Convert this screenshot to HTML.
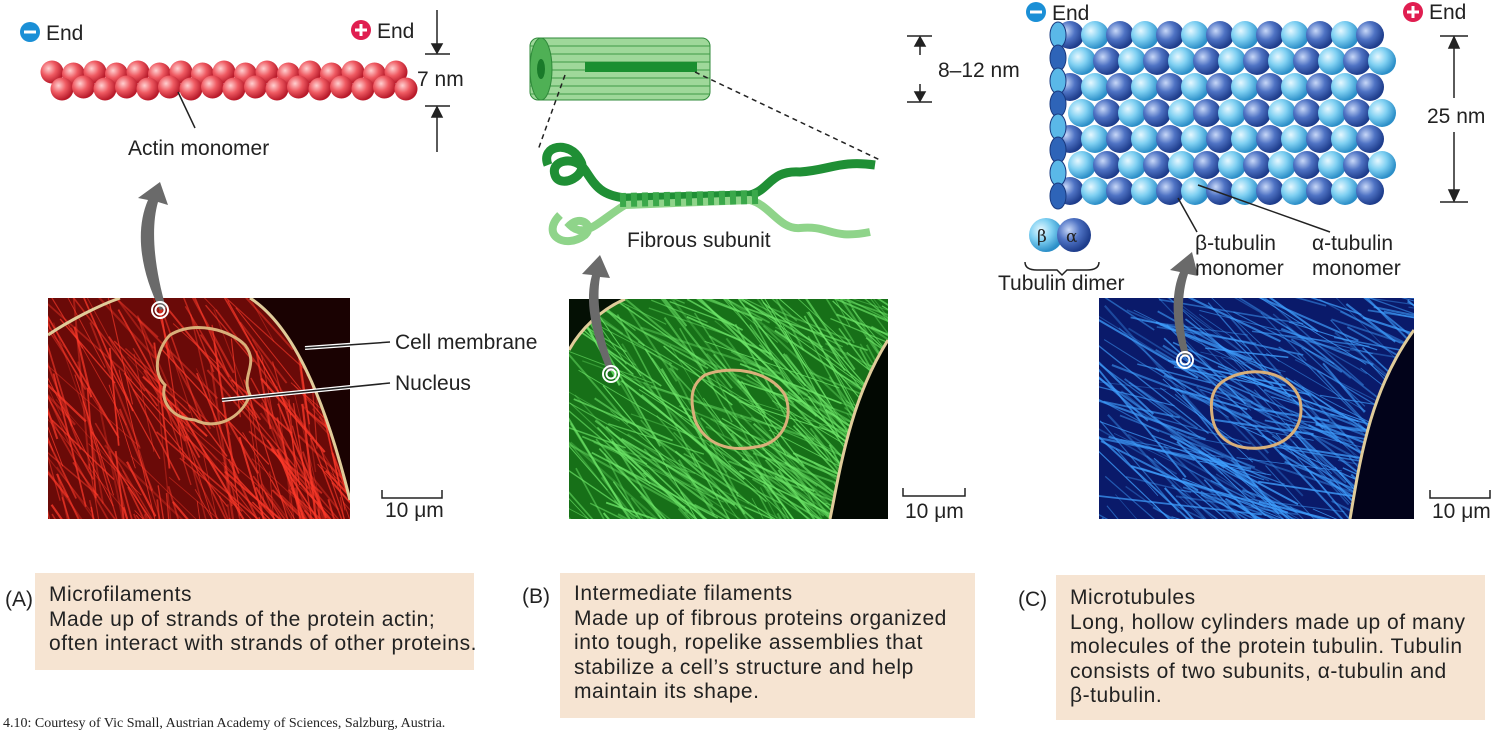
<!DOCTYPE html>
<html><head><meta charset="utf-8"><style>
body{margin:0;width:1500px;height:741px;background:#fff;overflow:hidden;font-family:"Liberation Sans",sans-serif;}
svg{position:absolute;left:0;top:0}
svg text{font-family:"Liberation Sans",sans-serif;font-size:21px;fill:#222}
.box{position:absolute;background:#f6e4d2;font-size:21px;letter-spacing:0.55px;line-height:24.5px;color:#222;padding:10px 14px;box-sizing:border-box;white-space:nowrap}
</style></head><body>
<svg id="s" width="1500" height="741" viewBox="0 0 1500 741">
<defs>
<radialGradient id="rb" cx="35%" cy="35%" r="65%"><stop offset="0" stop-color="#ffd0d0"/><stop offset="0.5" stop-color="#ef5a62"/><stop offset="1" stop-color="#b81a2a"/></radialGradient>
<radialGradient id="lb" cx="35%" cy="35%" r="65%"><stop offset="0" stop-color="#e6f8ff"/><stop offset="0.5" stop-color="#7fd0f2"/><stop offset="1" stop-color="#2c8fc8"/></radialGradient>
<radialGradient id="db" cx="35%" cy="35%" r="65%"><stop offset="0" stop-color="#c8d8f8"/><stop offset="0.5" stop-color="#4f73c4"/><stop offset="1" stop-color="#1e3d8c"/></radialGradient>
<clipPath id="ca"><rect x="48" y="298" width="302" height="221"/></clipPath>
<clipPath id="cb"><rect x="569" y="299" width="319" height="220"/></clipPath>
<clipPath id="cc"><rect x="1099" y="298" width="315" height="221"/></clipPath>
</defs>
<g id="actin"></g>
<g clip-path="url(#ca)"><rect x="48" y="298" width="302" height="221" fill="#6a0a08"/><g id="la"></g>
<path d="M250,298 C300,330 330,420 350,500 L350,298Z" fill="#1a0202"/>
<path d="M250,298 C300,330 330,420 350,500" stroke="#e0cc9a" stroke-width="3" fill="none"/>
<path d="M48,335 C70,320 100,305 120,298" stroke="#e0cc9a" stroke-width="3" fill="none"/>
<path d="M170,335 C195,320 230,330 245,345 C260,365 240,375 250,395 C240,420 215,430 195,420 C170,418 160,400 165,385 C150,370 160,345 170,335Z" stroke="#d9b07a" stroke-width="3" fill="none"/>
</g>
<g clip-path="url(#cb)"><rect x="569" y="299" width="319" height="220" fill="#177018"/><g id="lb2"></g>
<path d="M888,340 C850,400 840,470 830,519 L888,519Z" fill="#020802"/>
<path d="M888,340 C850,400 840,470 830,519" stroke="#e0cc9a" stroke-width="3" fill="none"/>
<path d="M569,350 C580,330 600,310 625,299 L569,299Z" fill="#041004"/>
<path d="M569,350 C580,330 600,310 625,299" stroke="#e0cc9a" stroke-width="3" fill="none"/>
<path d="M705,375 C730,365 770,370 785,395 C795,420 780,445 755,447 C730,452 705,445 695,420 C690,400 690,385 705,375Z" stroke="#d9b07a" stroke-width="3" fill="none"/>
</g>
<g clip-path="url(#cc)"><rect x="1099" y="298" width="315" height="221" fill="#0a1a6a"/><g id="lc"></g>
<path d="M1414,330 C1370,390 1360,460 1350,519 L1414,519Z" fill="#02031a"/>
<path d="M1414,330 C1370,390 1360,460 1350,519" stroke="#e0cc9a" stroke-width="3" fill="none"/>
<path d="M1225,380 C1250,365 1290,370 1300,400 C1305,425 1290,445 1260,448 C1235,450 1215,440 1212,415 C1210,400 1212,388 1225,380Z" stroke="#d9b07a" stroke-width="3" fill="none"/>
</g>
<line x1="305" y1="348" x2="390" y2="342" stroke="#fff" stroke-width="4"/><line x1="305" y1="348" x2="390" y2="342" stroke="#222" stroke-width="1.5"/>
<line x1="222" y1="400" x2="390" y2="383" stroke="#fff" stroke-width="4"/><line x1="222" y1="400" x2="390" y2="383" stroke="#222" stroke-width="1.5"/>
<path d="M160,310 C140,270 135,230 148,200 L138,198 L160,182 L168,205 L158,202 C150,230 155,270 166,308Z" fill="#6a6a6a"/>
<path d="M608,372 C590,330 585,300 592,275 L582,274 L600,255 L610,278 L600,277 C596,300 600,330 614,370Z" fill="#6a6a6a"/>
<path d="M1183,357 C1170,320 1172,290 1180,272 L1170,270 L1192,252 L1198,276 L1188,274 C1182,292 1180,320 1189,355Z" fill="#6a6a6a"/>
<circle cx="160" cy="310" r="8" fill="none" stroke="#fff" stroke-width="2"/><circle cx="160" cy="310" r="4.5" fill="none" stroke="#fff" stroke-width="2"/>
<circle cx="611" cy="374" r="8" fill="none" stroke="#fff" stroke-width="2"/><circle cx="611" cy="374" r="4.5" fill="none" stroke="#fff" stroke-width="2"/>
<circle cx="1185" cy="360" r="8" fill="none" stroke="#fff" stroke-width="2"/><circle cx="1185" cy="360" r="4.5" fill="none" stroke="#fff" stroke-width="2"/>
<path d="M382,490 v8 h60 v-8" stroke="#222" fill="none" stroke-width="1.5"/>
<path d="M903,488 v8 h62 v-8" stroke="#222" fill="none" stroke-width="1.5"/>
<path d="M1430,490 v8 h60 v-8" stroke="#222" fill="none" stroke-width="1.5"/>
<g stroke="#222" stroke-width="1.5" fill="#222">
<line x1="437" y1="10" x2="437" y2="50"/><line x1="425" y1="54" x2="450" y2="54"/><path d="M432,44 L442,44 L437,53Z"/>
<line x1="437" y1="112" x2="437" y2="152"/><line x1="425" y1="106" x2="450" y2="106"/><path d="M432,117 L442,117 L437,107Z"/>
<line x1="907" y1="36" x2="932" y2="36"/><line x1="907" y1="102" x2="932" y2="102"/><line x1="920" y1="38" x2="920" y2="55"/><line x1="920" y1="84" x2="920" y2="100"/>
<path d="M915,46 L925,46 L920,37Z"/><path d="M915,92 L925,92 L920,101Z"/>
<line x1="1440" y1="36" x2="1468" y2="36"/><line x1="1440" y1="202" x2="1468" y2="202"/><line x1="1454" y1="38" x2="1454" y2="98"/><line x1="1454" y1="132" x2="1454" y2="200"/>
<path d="M1449,48 L1459,48 L1454,37Z"/><path d="M1449,190 L1459,190 L1454,201Z"/>
</g>
<g>
<rect x="530" y="38" width="180" height="62" rx="8" fill="#9fd89a" stroke="#2f8a3a"/>
<g stroke="#3f9a45" stroke-width="1"><line x1="530" y1="46" x2="710" y2="46"/><line x1="530" y1="54" x2="710" y2="54"/><line x1="530" y1="62" x2="710" y2="62"/><line x1="530" y1="70" x2="710" y2="70"/><line x1="530" y1="78" x2="710" y2="78"/><line x1="530" y1="86" x2="710" y2="86"/><line x1="530" y1="94" x2="710" y2="94"/></g>
<rect x="585" y="62" width="112" height="10" fill="#1a8f30"/>
<ellipse cx="541" cy="69" rx="11" ry="31" fill="#4fb055" stroke="#2f8a3a"/>
<ellipse cx="541" cy="69" rx="4" ry="10" fill="#1a7a2a"/>
<line x1="565" y1="75" x2="538" y2="150" stroke="#222" stroke-dasharray="5,4" stroke-width="1.5"/>
<line x1="695" y1="72" x2="880" y2="160" stroke="#222" stroke-dasharray="5,4" stroke-width="1.5"/>
<path d="M548,165 C540,145 570,140 580,160 C590,175 560,190 555,175 C550,160 575,155 585,170 C595,185 600,195 625,198 L750,195 C770,190 770,170 800,172 C830,170 840,160 875,165" stroke="#1f8f35" stroke-width="9" fill="none"/>
<path d="M560,215 C540,235 565,250 585,235 C595,225 580,215 570,225 C585,240 600,220 625,205 L750,200 C770,205 780,230 800,228 C830,225 830,240 870,232" stroke="#8fd48a" stroke-width="8" fill="none"/>
<path d="M620,200 L760,197" stroke="#3aa84a" stroke-width="14" stroke-dasharray="6,5"/>
</g>
<g id="mt"></g>
<circle cx="1046" cy="235" r="17" fill="url(#lb)"/><circle cx="1074" cy="235" r="17" fill="url(#db)"/>
<path d="M1025,262 q0,8 12,8 h20 l5,5 l5,-5 h20 q12,0 12,-8" stroke="#222" fill="none" stroke-width="1.5"/>
<line x1="1197" y1="232" x2="1178" y2="198" stroke="#222" stroke-width="1.5"/>
<line x1="1330" y1="232" x2="1198" y2="185" stroke="#222" stroke-width="1.5"/>
<line x1="195" y1="128" x2="178" y2="92" stroke="#222" stroke-width="1.5"/>
<circle cx="30" cy="32" r="10" fill="#1a8fd6"/><rect x="24" y="30.5" width="12" height="3" fill="#fff"/>
<circle cx="361" cy="30" r="10" fill="#e01e50"/><rect x="355" y="28.5" width="12" height="3" fill="#fff"/><rect x="359.5" y="24" width="3" height="12" fill="#fff"/>
<circle cx="1036" cy="12" r="10" fill="#1a8fd6"/><rect x="1030" y="10.5" width="12" height="3" fill="#fff"/>
<circle cx="1413" cy="12" r="10" fill="#e01e50"/><rect x="1407" y="10.5" width="12" height="3" fill="#fff"/><rect x="1411.5" y="6" width="3" height="12" fill="#fff"/>
<text x="46" y="40">End</text><text x="377" y="38">End</text>
<text x="1052" y="20">End</text><text x="1429" y="19">End</text>
<text x="417" y="86">7 nm</text><text x="938" y="77">8–12 nm</text><text x="1427" y="123">25 nm</text>
<text x="128" y="155">Actin monomer</text>
<text x="627" y="247">Fibrous subunit</text>
<text x="1037" y="242" fill="#fff" style="font-family:'DejaVu Serif',serif;font-size:17px">β</text>
<text x="1066" y="242" fill="#fff" style="font-family:'DejaVu Serif',serif;font-size:17px">α</text>
<text x="998" y="290">Tubulin dimer</text>
<text x="1195" y="250">β-tubulin</text><text x="1195" y="275">monomer</text>
<text x="1312" y="250">α-tubulin</text><text x="1312" y="275">monomer</text>
<text x="395" y="349">Cell membrane</text><text x="395" y="390">Nucleus</text>
<text x="385" y="517">10 μm</text><text x="905" y="518">10 μm</text><text x="1432" y="518">10 μm</text>
<text x="5" y="606">(A)</text><text x="522" y="603">(B)</text><text x="1018" y="606">(C)</text>
<text x="3" y="727" style="font-family:'Liberation Serif',serif;font-size:14px">4.10: Courtesy of Vic Small, Austrian Academy of Sciences, Salzburg, Austria.</text>
</svg>
<div class="box" style="left:35px;top:573px;width:439px;height:97px">Microfilaments<br>Made up of strands of the protein actin;<br>often interact with strands of other proteins.</div>
<div class="box" style="left:560px;top:573px;width:415px;height:145px;padding-top:9px">Intermediate filaments<br>Made up of fibrous proteins organized<br>into tough, ropelike assemblies that<br>stabilize a cell’s structure and help<br>maintain its shape.</div>
<div class="box" style="left:1056px;top:575px;width:429px;height:145px;padding-top:11px">Microtubules<br>Long, hollow cylinders made up of many<br>molecules of the protein tubulin. Tubulin<br>consists of two subunits, α-tubulin and<br>β-tubulin.</div>
<script>
var NS="http://www.w3.org/2000/svg";
function el(p,t,a){var e=document.createElementNS(NS,t);for(var k in a)e.setAttribute(k,a[k]);p.appendChild(e);return e;}
var g=document.getElementById("actin");
for(var i=0;i<17;i++){el(g,"circle",{cx:52+i*21.5,cy:72+(i%2)*2,r:11.5,fill:"url(#rb)"});}
for(var i=0;i<17;i++){el(g,"circle",{cx:62+i*21.5,cy:89-(i%2)*2,r:11.5,fill:"url(#rb)"});}
var seed=7;function r(){seed=(seed*16807)%2147483647;return seed/2147483647;}
function streaks(id,x,y,w,h,col,n,ang){var p=document.getElementById(id);for(var i=0;i<n;i++){var x0=x+r()*w,y0=y+r()*h,a=ang+(r()-0.5)*0.8,L=60+r()*120;el(p,"line",{x1:x0,y1:y0,x2:x0+Math.cos(a)*L,y2:y0+Math.sin(a)*L,stroke:col,"stroke-width":0.8+r()*1.4,opacity:0.3+r()*0.5});}}
streaks("la",0,260,360,280,"#ff3a2a",320,1.1);
streaks("lb2",540,270,360,270,"#6fe86a",360,0.7);
streaks("lc",1070,270,360,270,"#3fa0ff",320,0.5);
var m=document.getElementById("mt");
for(var row=0;row<7;row++){for(var c=0;c<13;c++){var cx=1070+c*25+(row%2)*12,cy=35+row*26;var dark=((c+row)%2==0);el(m,"circle",{cx:cx,cy:cy,r:14,fill:dark?"url(#db)":"url(#lb)"});}}
for(var k=0;k<8;k++){el(m,"ellipse",{cx:1058,cy:35+k*23,rx:8,ry:13,fill:k%2?"#2e64b8":"#5ab8e8",stroke:"#1a3a80"});}
</script>
</body></html>
